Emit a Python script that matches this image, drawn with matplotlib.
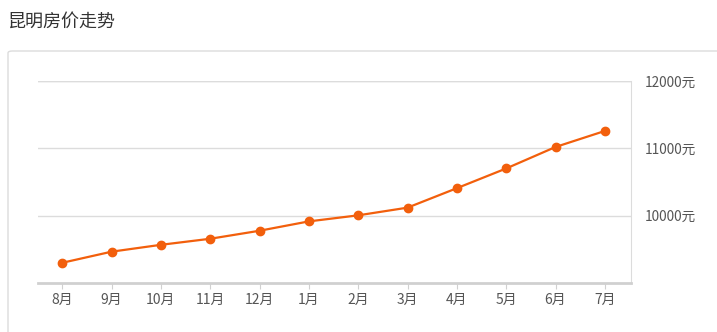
import numpy as np
import matplotlib
matplotlib.use("Agg")
import matplotlib.pyplot as plt
from matplotlib.patches import FancyBboxPatch

plt.rcParams['font.family'] = ['Noto Sans CJK SC', 'DejaVu Sans']

months = ["8月", "9月", "10月", "11月", "12月", "1月", "2月", "3月", "4月", "5月", "6月", "7月"]
prices = [9300, 9465, 9567, 9657, 9776, 9915, 10005, 10119, 10408, 10701, 11020, 11258]
yticks = [10000, 11000, 12000]
ytick_labels = ["10000元", "11000元", "12000元"]

W, H = 717, 332
fig = plt.figure(figsize=(W / 100, H / 100), dpi=100)

# title
fig.text(7 / W, 1 - 22 / H, "昆明房价走势", fontsize=13, color="#333333", va="center", ha="left")

# panel box
box = FancyBboxPatch((8 / W, -0.05), 1.0, 1 - 51 / H + 0.05,
                     boxstyle="round,pad=0,rounding_size=0.006",
                     transform=fig.transFigure, facecolor="white",
                     edgecolor="#dcdcdc", linewidth=1, zorder=-5)
fig.patches.append(box)

ax = fig.add_axes([38 / W, 1 - 283 / H, (631 - 38) / W, (283 - 81) / H])
ax.set_zorder(5)
ax.set_facecolor("none")

x = np.arange(len(months))
ax.plot(x, prices, color="#f25f0c", linewidth=1.6, marker="o", markersize=6, zorder=3)

ax.set_xlim(-0.49, 11.53)
ax.set_ylim(9000, 12000)

ax.set_xticks(x)
ax.set_xticklabels(months)
ax.set_yticks(yticks)
ax.set_yticklabels(ytick_labels)
ax.yaxis.tick_right()

ax.grid(axis="y", color="#dcdcdc", linewidth=1)
ax.axhline(12000, color="#dcdcdc", linewidth=1)

for s in ["left", "top"]:
    ax.spines[s].set_visible(False)
ax.spines["right"].set_color("#dcdcdc")
ax.spines["bottom"].set_color("#d0d0d0")
ax.spines["bottom"].set_linewidth(2)

ax.tick_params(axis="x", length=4, color="#d0d0d0", labelcolor="#555555", labelsize=10, pad=3)
ax.tick_params(axis="y", length=0, labelcolor="#555555", labelsize=9.8, pad=10)

fig.savefig("out.png", dpi=100)
